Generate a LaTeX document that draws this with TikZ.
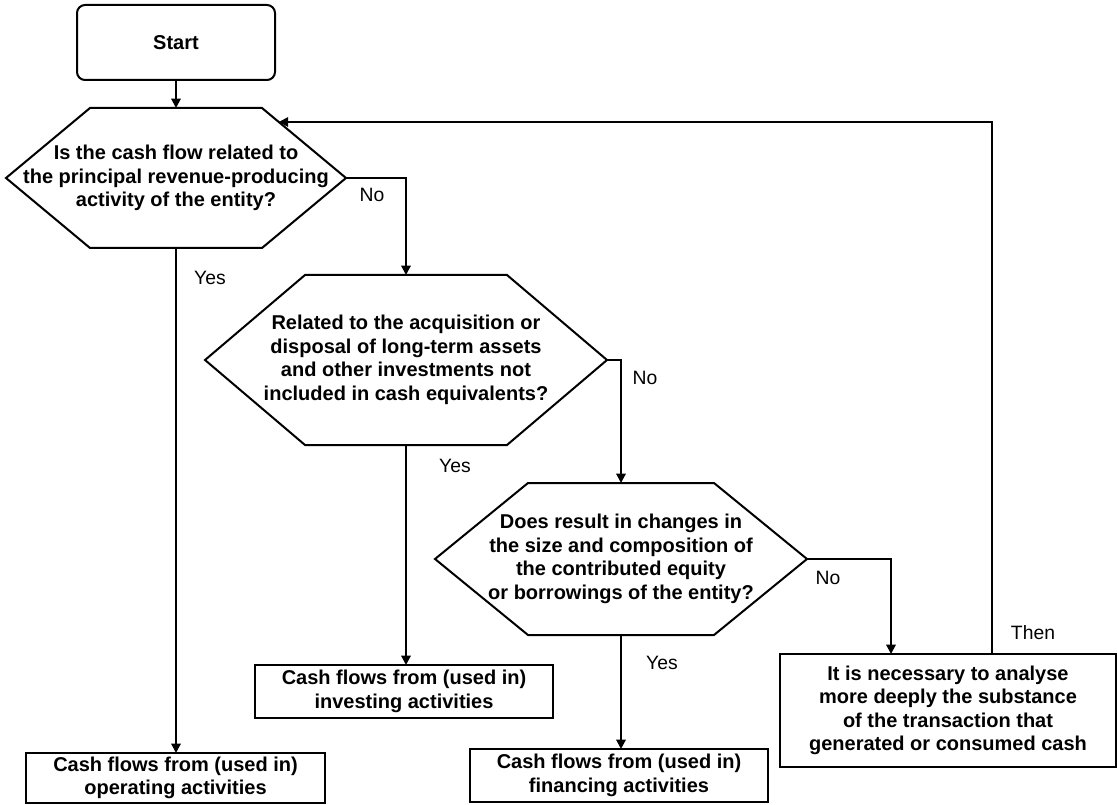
\documentclass[tikz,border=0pt]{standalone}
\usepackage{fontspec}
\setmainfont{Liberation Sans}
\usetikzlibrary{arrows.meta,calc}

% hexagon drawn round a rectangular node: #1 node name, #2 width of the slanted sides
\newcommand{\hexoutline}[2]{%
  \draw[line] (#1.west) -- ($(#1.north west)+(#2,0)$) -- ($(#1.north east)+(-#2,0)$) -- (#1.east)
    -- ($(#1.south east)+(-#2,0)$) -- ($(#1.south west)+(#2,0)$) -- cycle;}

\begin{document}
\begin{tikzpicture}[x=0.75pt, y=-0.75pt,
    line/.style={line width=1.5pt, line join=miter},
    arrow/.style={line, -{Triangle[length=7pt,width=7pt]}},
    boxsize/.style 2 args={minimum width=#1*0.75pt, minimum height=#2*0.75pt},
    boxtext/.style={font={\fontsize{15}{17.6}\selectfont\bfseries}, align=center, inner sep=0pt, outer sep=0pt},
    hexnode/.style={boxtext},
    outbox/.style={boxtext, draw, line},
    startbox/.style={outbox, rounded corners=6pt},
    lbl/.style={font={\fontsize{14.5}{17}\selectfont}, inner sep=0pt}]
    \useasboundingbox (0,0) rectangle (1117,805);

    % decisions
    \node[startbox, boxsize={198}{75}] (start) at (176,42.5) {Start};
    \node[hexnode, boxsize={340}{140}] (q1) at (176,178) {Is the cash flow related to\\the principal revenue-producing\\activity of the entity?};
    \hexoutline{q1}{84}
    \node[hexnode, boxsize={402}{170}] (q2) at (406,360) {Related to the acquisition or\\disposal of long-term assets\\and other investments not\\included in cash equivalents?};
    \hexoutline{q2}{100}
    \node[hexnode, boxsize={372}{152}] (q3) at (621,559) {Does result in changes in\\the size and composition of\\the contributed equity\\or borrowings of the entity?};
    \hexoutline{q3}{93}

    % outcomes
    \node[outbox, boxsize={299}{50}] (op) at (175.5,778) {Cash flows from (used in)\\operating activities};
    \node[outbox, boxsize={298}{53}] (inv) at (404,691.5) {Cash flows from (used in)\\investing activities};
    \node[outbox, boxsize={298}{53}] (fin) at (619,775.5) {Cash flows from (used in)\\financing activities};
    \node[outbox, boxsize={336}{113}] (analyse) at (948,710.5) {It is necessary to analyse\\more deeply the substance\\of the transaction that\\generated or consumed cash};

    % connectors
    \coordinate (q1ne) at ($(q1.north east)+(-84,0)$);
    \draw[arrow] (start.south) -- (start.south |- q1.north);
    \draw[arrow] (q1.east) -| (q2.north);
    \draw[arrow] (q1.south) -- (q1.south |- op.north);
    \draw[arrow] (q2.east) -| (q3.north);
    \draw[arrow] (q2.south) -- (q2.south |- inv.north);
    \draw[arrow] (q3.east) -| ($(analyse.north west)+(111,0)$);
    \draw[arrow] (q3.south) -- (q3.south |- fin.north);
    \draw[arrow] ($(analyse.north west)+(212,0)$) |- ($(q1ne)!0.2!(q1.east)$);

    % labels
    \node[lbl] (no1) at (372,195) {No};
    \node[lbl] (yes1) at (210,278) {Yes};
    \node[lbl] (no2) at (645,378) {No};
    \node[lbl] (yes2) at (455,466) {Yes};
    \node[lbl] (no3) at (828,578) {No};
    \node[lbl] (yes3) at (662,663) {Yes};
    \node[lbl] (then) at (1033,633) {Then};
\end{tikzpicture}
\end{document}
